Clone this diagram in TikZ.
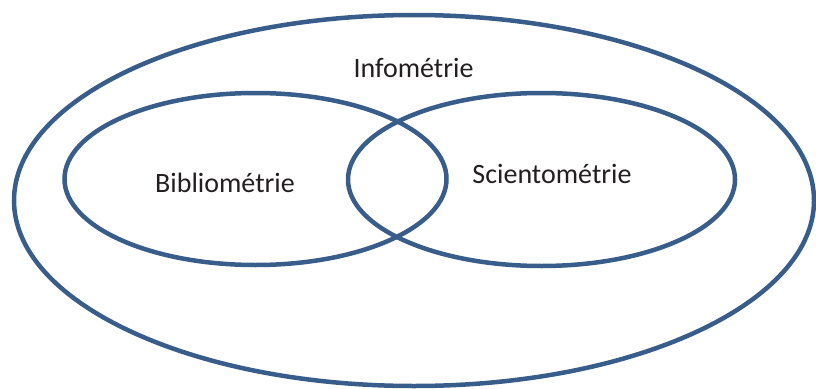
\documentclass[tikz,border=0pt]{standalone}
\usepackage{fontspec}
\setmainfont{Carlito}
\usetikzlibrary{shapes.geometric}
\definecolor{ring}{HTML}{385D8A}
\definecolor{txt}{HTML}{231F20}
\tikzset{
  set/.style={draw=ring, line width=4.5pt, ellipse, inner sep=0pt},
  lbl/.style={anchor=base, text=txt, font=\fontsize{28}{32}\selectfont, inner sep=0pt}
}
\begin{document}
\begin{tikzpicture}[x=1pt,y=-1pt]
\useasboundingbox (0,0) rectangle (816,388);
\node[set, minimum width=800pt, minimum height=371pt] (info) at (414,200.5) {};
\node[set, minimum width=382pt, minimum height=172pt] (biblio) at (255.5,179) {};
\node[set, minimum width=387pt, minimum height=173pt] (scien) at (541.5,179.5) {};
\node[lbl] (tinfo) at (413.5,77) {Infométrie};
\node[lbl] (tbiblio) at (225,192) {Bibliométrie};
\node[lbl] (tscien) at (552,183) {Scientométrie};
\end{tikzpicture}
\end{document}
